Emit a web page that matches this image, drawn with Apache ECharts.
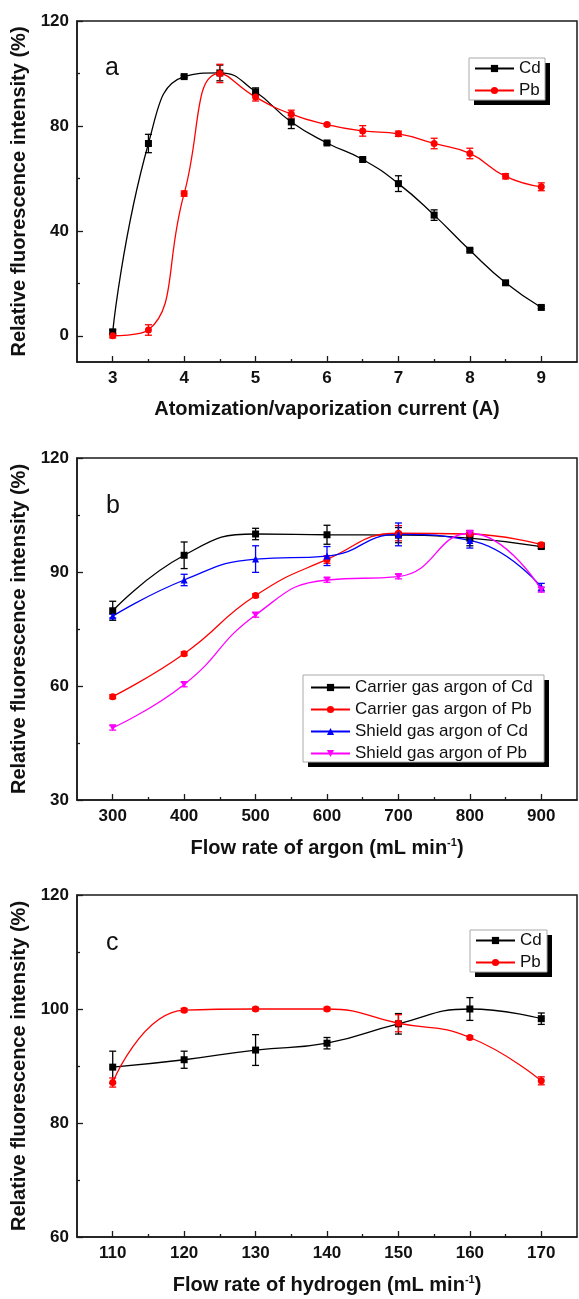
<!DOCTYPE html>
<html>
<head>
<meta charset="utf-8">
<script src="https://cdn.jsdelivr.net/npm/echarts@6/dist/echarts.min.js"></script>
<style>
html,body{margin:0;padding:0;background:#fff;}
#chart{width:579px;height:1299px;}
</style>
</head>
<body>
<div id="chart"></div>
<script>
// ---------- Panel a ----------
const currentA = [3, 3.5, 4, 4.5, 5, 5.5, 6, 6.5, 7, 7.5, 8, 8.5, 9];
const cdA      = [1.5, 73.3, 98.8, 100.2, 93.0, 81.5, 73.5, 67.2, 58.0, 46.0, 32.6, 20.2, 10.8];
const cdAErr   = [0.8, 3.5, 0.5, 3.0, 1.5, 2.5, 0.5, 0.5, 3.0, 2.0, 0.5, 0.5, 0.5];
const pbA      = [0.0, 2.2, 54.2, 100.0, 91.0, 84.5, 80.5, 78.1, 77.0, 73.3, 69.5, 60.8, 56.8];
const pbAErr   = [0.8, 2.0, 1.0, 3.5, 1.5, 1.5, 0.5, 2.0, 1.0, 2.0, 2.0, 1.0, 1.5];
const xMajorA = [3, 4, 5, 6, 7, 8, 9];
const xMinorA = [3.5, 4.5, 5.5, 6.5, 7.5, 8.5];
const yMajorA = [0, 40, 80, 120];
const yMinorA = [20, 60, 100];

// ---------- Panel b ----------
const argonB        = [300, 400, 500, 600, 700, 800, 900];
const carrierCdB    = [79.8, 94.4, 100.0, 99.8, 99.7, 98.9, 96.7];
const carrierCdBErr = [2.5, 3.5, 1.5, 2.5, 2.0, 2.0, 0.5];
const carrierPbB    = [57.2, 68.5, 83.8, 93.3, 100.2, 100.0, 97.2];
const carrierPbBErr = [0.5, 0.5, 0.5, 1.0, 2.0, 0.5, 0.5];
const shieldCdB     = [78.4, 87.9, 93.4, 94.2, 99.9, 98.3, 86.0];
const shieldCdBErr  = [0.5, 1.5, 3.5, 2.5, 3.0, 2.0, 1.0];
const shieldPbB     = [49.0, 60.4, 78.7, 87.9, 88.8, 100.2, 85.3];
const shieldPbBErr  = [0.6, 0.6, 0.6, 0.6, 0.6, 0.6, 0.6];
const xMajorB = [300, 400, 500, 600, 700, 800, 900];
const xMinorB = [350, 450, 550, 650, 750, 850];
const yMajorB = [30, 60, 90, 120];
const yMinorB = [45, 75, 105];

// ---------- Panel c ----------
const hydrogenC = [110, 120, 130, 140, 150, 160, 170];
const cdC       = [89.8, 91.1, 92.8, 94.0, 97.4, 100.0, 98.3];
const cdCErr    = [2.8, 1.5, 2.7, 1.0, 1.8, 2.0, 1.0];
const pbC       = [87.1, 99.8, 100.0, 100.0, 97.5, 95.0, 87.4];
const pbCErr    = [0.8, 0.3, 0.3, 0.3, 1.5, 0.3, 0.7];
const xMajorC = [110, 120, 130, 140, 150, 160, 170];
const xMinorC = [115, 125, 135, 145, 155, 165];
const yMajorC = [60, 80, 100, 120];
const yMinorC = [70, 90, 110];

const FONT = 'Liberation Sans, Arial, sans-serif';
const AX = '#1a1a1a';

function pairs(xs, ys) { return xs.map((x, i) => [x, ys[i]]); }
function triples(xs, ys, es) { return xs.map((x, i) => [x, ys[i], es[i]]); }

function lineSeries(name, g, xs, ys, color, symbol, rotate) {
  return {
    type: 'line', name: name, xAxisIndex: 2 * g, yAxisIndex: 2 * g,
    data: pairs(xs, ys), smooth: 0.5,
    symbol: symbol, symbolSize: 7, symbolRotate: rotate || 0,
    itemStyle: { color: color }, lineStyle: { color: color, width: 1.3 },
    z: 4
  };
}
function errSeries(g, xs, ys, es, color) {
  return {
    type: 'custom', coordinateSystem: 'cartesian2d',
    xAxisIndex: 2 * g, yAxisIndex: 2 * g,
    data: triples(xs, ys, es), z: 3, silent: true,
    renderItem: function (params, api) {
      const x = api.value(0), y = api.value(1), e = api.value(2);
      const t = api.coord([x, y + e]), b = api.coord([x, y - e]);
      const hw = 3.5;
      const st = { stroke: color, lineWidth: 1.3 };
      return { type: 'group', children: [
        { type: 'line', shape: { x1: t[0], y1: t[1], x2: b[0], y2: b[1] }, style: st },
        { type: 'line', shape: { x1: t[0] - hw, y1: t[1], x2: t[0] + hw, y2: t[1] }, style: st },
        { type: 'line', shape: { x1: b[0] - hw, y1: b[1], x2: b[0] + hw, y2: b[1] }, style: st }
      ]};
    }
  };
}

function xAxes(g, min, max, major, minor, name, nameGap) {
  return [{
    gridIndex: g, type: 'value', min: min, max: max, position: 'bottom',
    axisLine: { show: true, onZero: false, lineStyle: { color: AX, width: 1.5 } },
    axisTick: { show: true, inside: true, length: 6, customValues: major, lineStyle: { color: AX, width: 1.3 } },
    axisLabel: { customValues: major, fontSize: 17, fontWeight: 'bold', color: '#111', margin: 8, fontFamily: FONT },
    splitLine: { show: false },
    name: name, nameLocation: 'middle', nameGap: nameGap,
    nameTextStyle: {
      fontSize: 20, fontWeight: 'bold', color: '#111', fontFamily: FONT, lineHeight: 22,
      rich: { sup: { fontSize: 11, fontWeight: 'bold', color: '#111', fontFamily: FONT, verticalAlign: 'top', lineHeight: 22 } }
    }
  }, {
    gridIndex: g, type: 'value', min: min, max: max, position: 'bottom',
    axisLine: { show: false, onZero: false },
    axisTick: { show: true, inside: true, length: 3, customValues: minor, lineStyle: { color: AX, width: 1.3 } },
    axisLabel: { show: false }, splitLine: { show: false }
  }];
}
function yAxes(g, min, max, major, minor) {
  return [{
    gridIndex: g, type: 'value', min: min, max: max, position: 'left',
    axisLine: { show: true, onZero: false, lineStyle: { color: AX, width: 1.5 } },
    axisTick: { show: true, inside: true, length: 6, customValues: major, lineStyle: { color: AX, width: 1.3 } },
    axisLabel: { customValues: major, fontSize: 17, fontWeight: 'bold', color: '#111', margin: 8, fontFamily: FONT },
    splitLine: { show: false },
    name: 'Relative fluorescence intensity (%)', nameLocation: 'middle', nameGap: 46,
    nameTextStyle: { fontSize: 20, fontWeight: 'bold', color: '#111', fontFamily: FONT }
  }, {
    gridIndex: g, type: 'value', min: min, max: max, position: 'left',
    axisLine: { show: false, onZero: false },
    axisTick: { show: true, inside: true, length: 3, customValues: minor, lineStyle: { color: AX, width: 1.3 } },
    axisLabel: { show: false }, splitLine: { show: false }
  }];
}

function legend(left, top, names, pad) {
  return {
    orient: 'vertical', left: left, top: top, data: names,
    itemWidth: 39, itemHeight: 9, itemGap: 5, padding: pad,
    textStyle: { fontSize: 17, color: '#111', fontFamily: FONT },
    backgroundColor: 'transparent', borderWidth: 0,
    selectedMode: false, z: 10
  };
}
// legend frame: black offset shadow + white box with grey border
function legendBox(x, y, w, h) {
  return [
    { type: 'rect', z: 8, shape: { x: x + 5, y: y + 5, width: w, height: h }, style: { fill: '#000' } },
    { type: 'rect', z: 9, shape: { x: x, y: y, width: w, height: h }, style: { fill: '#fff', stroke: '#aaa', lineWidth: 1 } }
  ];
}

const gridCommon = { show: true, borderColor: AX, borderWidth: 1.5, backgroundColor: 'transparent', containLabel: false };

const option = {
  animation: false,
  backgroundColor: '#fff',
  grid: [
    Object.assign({ left: 77, top: 21, width: 500, height: 341 }, gridCommon),
    Object.assign({ left: 77, top: 458, width: 500, height: 342 }, gridCommon),
    Object.assign({ left: 77, top: 895, width: 500, height: 342 }, gridCommon)
  ],
  xAxis: [].concat(
    xAxes(0, 2.5, 9.5, xMajorA, xMinorA, 'Atomization/vaporization current (A)', 36),
    xAxes(1, 250, 950, xMajorB, xMinorB, 'Flow rate of argon (mL min{sup|-1})', 37),
    xAxes(2, 105, 175, xMajorC, xMinorC, 'Flow rate of hydrogen (mL min{sup|-1})', 37)
  ),
  yAxis: [].concat(
    yAxes(0, -10, 120, yMajorA, yMinorA),
    yAxes(1, 30, 120, yMajorB, yMinorB),
    yAxes(2, 60, 120, yMajorC, yMinorC)
  ),
  legend: [
    legend(469, 58, ['Cd', 'Pb'], [2, 5, 1, 5]),
    legend(303, 675, ['Carrier gas argon of Cd', 'Carrier gas argon of Pb', 'Shield gas argon of Cd', 'Shield gas argon of Pb'], [4, 5, 1, 7]),
    legend(470, 930, ['Cd', 'Pb'], [2, 5, 1, 5])
  ],
  graphic: [].concat(
    legendBox(469, 58, 76, 42),
    legendBox(303, 675, 241, 87),
    legendBox(470, 930, 77, 42),
    [
      { type: 'text', left: 105, top: 56, style: { text: 'a', fontSize: 25, fill: '#111', fontFamily: FONT } },
      { type: 'text', left: 106, top: 494, style: { text: 'b', fontSize: 25, fill: '#111', fontFamily: FONT } },
      { type: 'text', left: 106, top: 931, style: { text: 'c', fontSize: 25, fill: '#111', fontFamily: FONT } }
    ]
  ),
  series: [
    errSeries(0, currentA, cdA, cdAErr, '#000000'),
    errSeries(0, currentA, pbA, pbAErr, '#ff0000'),
    lineSeries('Cd', 0, currentA, cdA, '#000000', 'rect'),
    lineSeries('Pb', 0, currentA, pbA, '#ff0000', 'circle'),

    errSeries(1, argonB, carrierCdB, carrierCdBErr, '#000000'),
    errSeries(1, argonB, carrierPbB, carrierPbBErr, '#ff0000'),
    errSeries(1, argonB, shieldCdB, shieldCdBErr, '#0000ff'),
    errSeries(1, argonB, shieldPbB, shieldPbBErr, '#ff00ff'),
    lineSeries('Carrier gas argon of Cd', 1, argonB, carrierCdB, '#000000', 'rect'),
    lineSeries('Carrier gas argon of Pb', 1, argonB, carrierPbB, '#ff0000', 'circle'),
    lineSeries('Shield gas argon of Cd', 1, argonB, shieldCdB, '#0000ff', 'triangle'),
    lineSeries('Shield gas argon of Pb', 1, argonB, shieldPbB, '#ff00ff', 'triangle', 180),

    errSeries(2, hydrogenC, cdC, cdCErr, '#000000'),
    errSeries(2, hydrogenC, pbC, pbCErr, '#ff0000'),
    lineSeries('Cd', 2, hydrogenC, cdC, '#000000', 'rect'),
    lineSeries('Pb', 2, hydrogenC, pbC, '#ff0000', 'circle')
  ]
};

const chart = echarts.init(document.getElementById('chart'), null, { renderer: 'canvas' });
chart.setOption(option);
</script>
</body>
</html>
